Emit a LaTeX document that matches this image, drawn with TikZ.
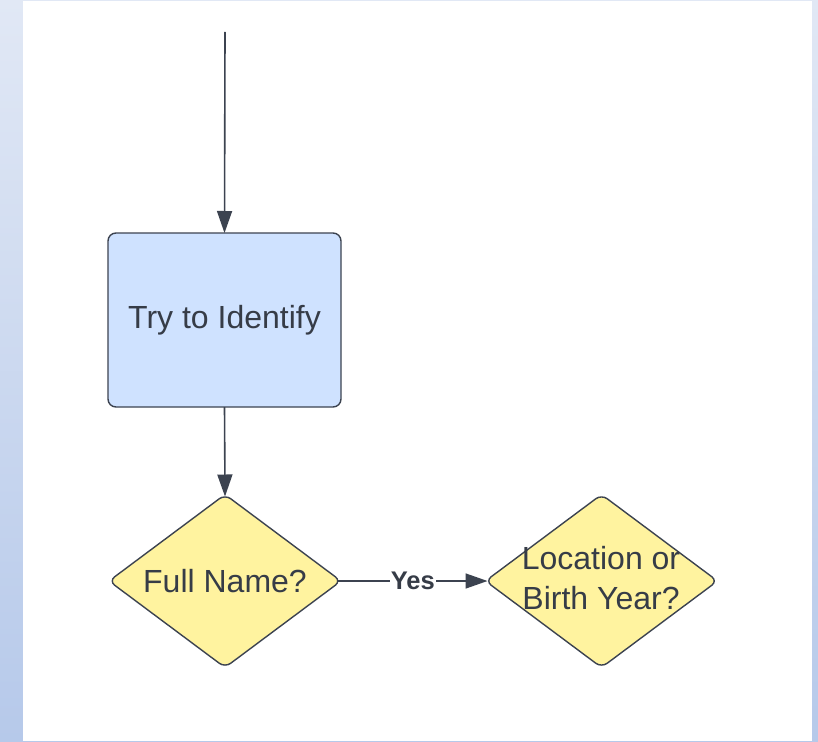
\documentclass[tikz,border=0pt]{standalone}
\usepackage{fontspec}
\setmainfont{Liberation Sans}
\usetikzlibrary{shapes.geometric,arrows.meta}
\definecolor{bgtop}{HTML}{E1E8F5}
\definecolor{bgbot}{HTML}{B6C9EA}
\definecolor{edge}{HTML}{3C4350}
\definecolor{txt}{HTML}{363C47}
\definecolor{boxfill}{HTML}{CFE2FF}
\definecolor{decfill}{HTML}{FFF39F}
\tikzset{
  conn/.style={draw=edge, line width=1.6pt, -{Triangle[length=22pt,width=15pt]}},
  procbox/.style={draw=edge, line width=1.4pt, fill=boxfill, rounded corners=8pt,
    minimum width=233pt, minimum height=174pt, inner sep=0pt, outer sep=0pt},
  decbox/.style={diamond, draw=edge, line width=1.4pt, fill=decfill, rounded corners=7pt,
    minimum width=232pt, minimum height=173pt, inner sep=0pt, outer sep=0pt},
  lbl/.style={text=txt, font=\fontsize{32}{40}\selectfont, align=center, inner sep=0pt},
  yeslbl/.style={text=txt, font=\fontsize{25.5}{28}\selectfont\bfseries, fill=white, inner sep=1pt}
}
\begin{document}
\begin{tikzpicture}[x=1pt,y=-1pt]
\useasboundingbox (0,0) rectangle (818,741);
\shade[top color=bgtop, bottom color=bgbot] (0,0) rectangle (818,741);
\fill[white] (23,1.5) rectangle (812,741);
\coordinate (start) at (225,32);
\node[procbox] (ident) at (224.5,320) {};
\node[lbl] (identtxt) at (ident) {Try to Identify};
\node[decbox] (fullname) at (225,581) {};
\node[lbl] (fulltxt) at (fullname) {Full Name?};
\node[decbox] (locyear) at (601.5,581) {};
\node[lbl] (loctxt) at (601,578) {Location or\\Birth Year?};
\draw[conn] (start) -- (ident.north);
\draw[conn] (ident.south) -- ([yshift=-2pt]fullname.north);
\draw[conn] ([xshift=-3pt]fullname.east) -- node[yeslbl] (yes) {Yes} ([xshift=2pt]locyear.west);
\end{tikzpicture}
\end{document}
